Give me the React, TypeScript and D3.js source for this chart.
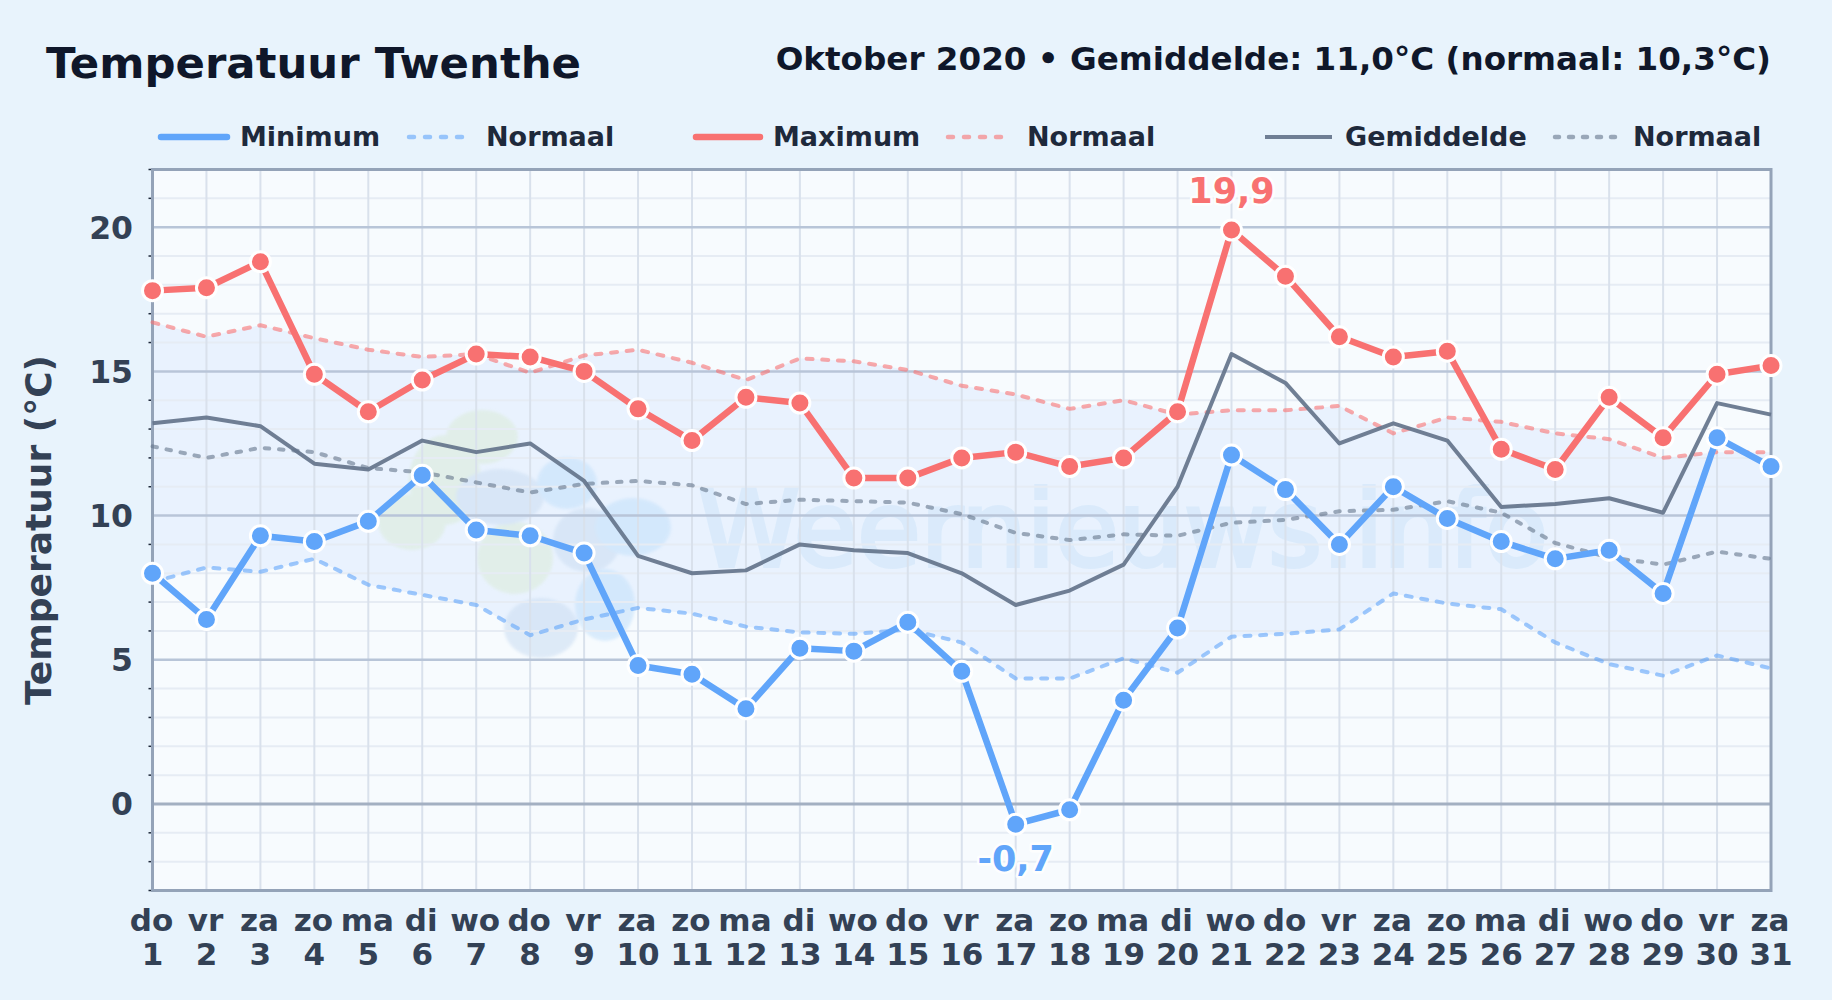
import React, { useEffect, useRef } from 'react';
import * as d3 from 'd3';

const weekdays = ['do', 'vr', 'za', 'zo', 'ma', 'di', 'wo', 'do', 'vr', 'za', 'zo', 'ma', 'di', 'wo', 'do', 'vr', 'za', 'zo', 'ma', 'di', 'wo', 'do', 'vr', 'za', 'zo', 'ma', 'di', 'wo', 'do', 'vr', 'za'];
const days = d3.range(1, 32);

const minimum = [8.0, 6.4, 9.3, 9.1, 9.8, 11.4, 9.5, 9.3, 8.7, 4.8, 4.5, 3.3, 5.4, 5.3, 6.3, 4.6, -0.7, -0.2, 3.6, 6.1, 12.1, 10.9, 9.0, 11.0, 9.9, 9.1, 8.5, 8.8, 7.3, 12.7, 11.7];
const maximum = [17.8, 17.9, 18.8, 14.9, 13.6, 14.7, 15.6, 15.5, 15.0, 13.7, 12.6, 14.1, 13.9, 11.3, 11.3, 12.0, 12.2, 11.7, 12.0, 13.6, 19.9, 18.3, 16.2, 15.5, 15.7, 12.3, 11.6, 14.1, 12.7, 14.9, 15.2];
const gemiddelde = [13.2, 13.4, 13.1, 11.8, 11.6, 12.6, 12.2, 12.5, 11.2, 8.6, 8.0, 8.1, 9.0, 8.8, 8.7, 8.0, 6.9, 7.4, 8.3, 11.0, 15.6, 14.6, 12.5, 13.2, 12.6, 10.3, 10.4, 10.6, 10.1, 13.9, 13.5];
const normaalMin = [7.7, 8.2, 8.05, 8.5, 7.6, 7.25, 6.9, 5.85, 6.4, 6.8, 6.6, 6.15, 5.95, 5.9, 6.05, 5.6, 4.35, 4.35, 5.05, 4.55, 5.8, 5.9, 6.05, 7.3, 6.95, 6.75, 5.6, 4.85, 4.45, 5.15, 4.7];
const normaalMax = [16.7, 16.2, 16.6, 16.15, 15.75, 15.5, 15.6, 14.95, 15.55, 15.75, 15.3, 14.7, 15.45, 15.35, 15.05, 14.5, 14.2, 13.7, 14.0, 13.5, 13.65, 13.65, 13.8, 12.85, 13.4, 13.25, 12.85, 12.65, 12.0, 12.2, 12.2];
const normaalGem = [12.4, 12.0, 12.35, 12.2, 11.65, 11.5, 11.15, 10.8, 11.1, 11.2, 11.05, 10.4, 10.55, 10.5, 10.45, 10.05, 9.4, 9.15, 9.35, 9.3, 9.75, 9.85, 10.15, 10.2, 10.5, 10.1, 9.05, 8.55, 8.3, 8.75, 8.5];

const yMajor = [0, 5, 10, 15, 20];
const yMinor = d3.range(-3, 23).filter(v => v % 5 !== 0);

const BLUE = '#60a5fa';
const RED = '#f87171';
const SLATE = '#64748b';
const FONT = '"DejaVu Sans", sans-serif';

const width = 1832;
const height = 1000;
const left = 152.5;
const right = 1771;
const top = 169.5;
const bottom = 890.5;

// logo behind the chart: colour, x, y, rx, ry
const logoBlobs: [string, number, number, number, number][] = [
  ['#dcecdc', 482, 437, 36, 27],
  ['#dcecdc', 445, 480, 36, 45],
  ['#dcecdc', 412, 522, 34, 28],
  ['#dcecdc', 515, 558, 38, 36],
  ['#cddff3', 500, 497, 44, 28],
  ['#cddff3', 587, 540, 34, 32],
  ['#cddff3', 541, 628, 37, 30],
  ['#c6e2fb', 567, 483, 30, 26],
  ['#c6e2fb', 633, 527, 38, 29],
  ['#c6e2fb', 605, 605, 30, 36],
];

export default () => {
  const svgRef = useRef<SVGSVGElement>(null);

  useEffect(() => {
    if (!svgRef.current) {
      return;
    }
    const svg = d3.select(svgRef.current);
    svg.selectAll('*').remove();

    const x = d3.scaleLinear().domain([1, 31]).range([left, right]);
    const y = d3.scaleLinear().domain([-3, 22]).range([bottom, top]);

    const text = (
      str: string,
      tx: number,
      ty: number,
      size: number,
      fill: string,
      anchor = 'start'
    ) => svg.append('text')
      .text(str)
      .attr('x', tx)
      .attr('y', ty)
      .attr('fill', fill)
      .attr('text-anchor', anchor)
      .style('font', `bold ${size}px ${FONT}`);

    const defs = svg.append('defs');
    defs.append('filter')
      .attr('id', 'soft')
      .append('feGaussianBlur')
      .attr('stdDeviation', 1.5);

    svg.append('rect').attr('width', width).attr('height', height).attr('fill', '#e8f3fc');

    // plot area
    svg.append('rect')
      .attr('x', left)
      .attr('y', top)
      .attr('width', right - left)
      .attr('height', bottom - top)
      .attr('fill', '#f7fbfe');

    // band between normal min and max
    const band = d3.area<number>()
      .x(d => x(d))
      .y0((d, i) => y(normaalMin[i]))
      .y1((d, i) => y(normaalMax[i]));
    svg.append('path')
      .attr('d', band(days) as string)
      .attr('fill', '#dbeafe')
      .attr('fill-opacity', 0.5);

    // watermark
    svg.append('g')
      .attr('opacity', 0.6)
      .attr('filter', 'url(#soft)')
      .selectAll('ellipse')
      .data(logoBlobs)
      .enter()
      .append('ellipse')
      .attr('cx', d => d[1])
      .attr('cy', d => d[2])
      .attr('rx', d => d[3])
      .attr('ry', d => d[4])
      .attr('fill', d => d[0]);
    svg.append('text')
      .text('Weernieuws.info')
      .attr('x', 698)
      .attr('y', 566)
      .attr('textLength', 850)
      .attr('lengthAdjust', 'spacingAndGlyphs')
      .attr('opacity', 0.45)
      .attr('fill', '#c9e2f8')
      .attr('stroke', '#c9e2f8')
      .attr('stroke-width', 4)
      .style('font', `${106}px ${FONT}`);

    // grid
    const grid = svg.append('g');
    grid.selectAll('.minor')
      .data(yMinor)
      .enter()
      .append('line')
      .attr('x1', left)
      .attr('x2', right)
      .attr('y1', d => y(d))
      .attr('y2', d => y(d))
      .attr('stroke', '#e6ecf4')
      .attr('stroke-width', 2);
    grid.selectAll('.day')
      .data(days)
      .enter()
      .append('line')
      .attr('x1', d => x(d))
      .attr('x2', d => x(d))
      .attr('y1', top)
      .attr('y2', bottom)
      .attr('stroke', '#d9e1ec')
      .attr('stroke-width', 2);
    grid.selectAll('.major')
      .data(yMajor)
      .enter()
      .append('line')
      .attr('x1', left)
      .attr('x2', right)
      .attr('y1', d => y(d))
      .attr('y2', d => y(d))
      .attr('stroke', d => (d === 0 ? '#a3b0c2' : '#b8c5d8'))
      .attr('stroke-width', d => (d === 0 ? 3 : 2.5));

    // minor ticks
    svg.append('g').selectAll('line')
      .data(yMinor)
      .enter()
      .append('line')
      .attr('x1', left - 4)
      .attr('x2', left)
      .attr('y1', d => y(d))
      .attr('y2', d => y(d))
      .attr('stroke', '#1e293b')
      .attr('stroke-width', 1.5);

    // frame
    svg.append('rect')
      .attr('x', left)
      .attr('y', top)
      .attr('width', right - left)
      .attr('height', bottom - top)
      .attr('fill', 'none')
      .attr('stroke', '#94a3b8')
      .attr('stroke-width', 3);

    // series
    const line = d3.line<number>().x((d, i) => x(days[i])).y(d => y(d));
    const drawLine = (values: number[], color: string, w: number, opacity = 1, dash?: string) => {
      svg.append('path')
        .attr('d', line(values) as string)
        .attr('fill', 'none')
        .attr('stroke', color)
        .attr('stroke-width', w)
        .attr('stroke-opacity', opacity)
        .attr('stroke-linejoin', 'round')
        .attr('stroke-linecap', dash ? 'round' : 'butt')
        .attr('stroke-dasharray', dash || null);
    };
    const drawDots = (values: number[], color: string) => {
      svg.append('g').selectAll('circle')
        .data(values)
        .enter()
        .append('circle')
        .attr('cx', (d, i) => x(days[i]))
        .attr('cy', d => y(d))
        .attr('r', 10)
        .attr('fill', color)
        .attr('stroke', '#fff')
        .attr('stroke-width', 3);
    };

    drawLine(normaalMin, BLUE, 4, 0.6, '6 9.7');
    drawLine(normaalMax, RED, 4, 0.6, '6 9.7');
    drawLine(normaalGem, SLATE, 4, 0.6, '4.5 9.8');
    drawLine(gemiddelde, SLATE, 4, 0.92);
    drawLine(minimum, BLUE, 6.5);
    drawLine(maximum, RED, 6.5);
    drawDots(minimum, BLUE);
    drawDots(maximum, RED);

    // extremes
    const halo = (sel: d3.Selection<SVGTextElement, unknown, null, undefined>) => sel
      .attr('stroke', '#fff')
      .attr('stroke-width', 5)
      .attr('stroke-opacity', 0.85)
      .attr('stroke-linejoin', 'round')
      .style('paint-order', 'stroke');
    const maxIdx = d3.maxIndex(maximum);
    const minIdx = d3.minIndex(minimum);
    halo(text(String(maximum[maxIdx]).replace('.', ','), x(days[maxIdx]), 203, 35, RED, 'middle'));
    halo(text(String(minimum[minIdx]).replace('.', ','), x(days[minIdx]), 871, 35, BLUE, 'middle'));

    // axis labels
    yMajor.forEach(v => text(String(v), 133, y(v) + 11.5, 31.5, '#334155', 'end'));
    days.forEach((d, i) => {
      text(weekdays[i], x(d) - 1, 931, 31, '#334155', 'middle');
      text(String(d), x(d), 965, 31, '#334155', 'middle');
    });
    text('Temperatuur (°C)', 0, 0, 36, '#334155', 'middle')
      .attr('transform', `translate(51, 530) rotate(-90)`);

    // titles
    text('Temperatuur Twenthe', 46, 78, 43.4, '#0f172a');
    text('Oktober 2020 • Gemiddelde: 11,0°C (normaal: 10,3°C)', 1771, 70, 32.6, '#0f172a', 'end');

    // legend
    const legend: [string, number, number, number, string, number, number, string | null][] = [
      ['Minimum', 161, 227, 240, BLUE, 6.5, 1, null],
      ['Normaal', 409, 462, 486, BLUE, 4.5, 0.6, '5 11'],
      ['Maximum', 696, 760, 773, RED, 6.5, 1, null],
      ['Normaal', 948, 1003, 1027, RED, 4.5, 0.6, '5 11'],
      ['Gemiddelde', 1265, 1332, 1345, SLATE, 4, 0.92, null],
      ['Normaal', 1555, 1616, 1633, SLATE, 4.5, 0.6, '4 10'],
    ];
    legend.forEach(([label, x1, x2, tx, color, w, opacity, dash]) => {
      svg.append('line')
        .attr('x1', x1)
        .attr('x2', x2)
        .attr('y1', 137)
        .attr('y2', 137)
        .attr('stroke', color)
        .attr('stroke-width', w)
        .attr('stroke-opacity', opacity)
        .attr('stroke-linecap', w > 5 || dash ? 'round' : 'butt')
        .attr('stroke-dasharray', dash);
      text(label, tx, 146, 27, '#1e293b');
    });
  }, []);

  return (
    <div style={{ position: 'absolute', left: 0, top: 0, width, height }}>
      <svg ref={svgRef} width={width} height={height} style={{ display: 'block' }} />
    </div>
  );
};
